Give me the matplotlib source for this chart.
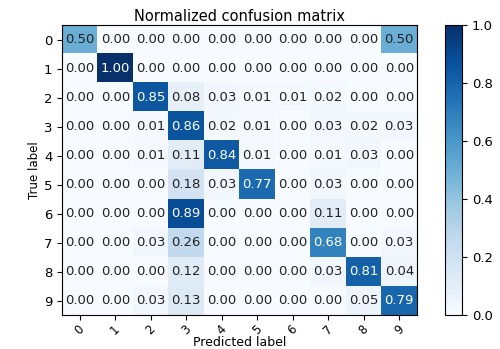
import numpy as np
import matplotlib
matplotlib.use("Agg")
import matplotlib.pyplot as plt

classes = ['0', '1', '2', '3', '4', '5', '6', '7', '8', '9']
row0 = [0.50, 0.00, 0.00, 0.00, 0.00, 0.00, 0.00, 0.00, 0.00, 0.50]
row1 = [0.00, 1.00, 0.00, 0.00, 0.00, 0.00, 0.00, 0.00, 0.00, 0.00]
row2 = [0.00, 0.00, 0.85, 0.08, 0.03, 0.01, 0.01, 0.02, 0.00, 0.00]
row3 = [0.00, 0.00, 0.01, 0.86, 0.02, 0.01, 0.00, 0.03, 0.02, 0.03]
row4 = [0.00, 0.00, 0.01, 0.11, 0.84, 0.01, 0.00, 0.01, 0.03, 0.00]
row5 = [0.00, 0.00, 0.00, 0.18, 0.03, 0.77, 0.00, 0.03, 0.00, 0.00]
row6 = [0.00, 0.00, 0.00, 0.89, 0.00, 0.00, 0.00, 0.11, 0.00, 0.00]
row7 = [0.00, 0.00, 0.03, 0.26, 0.00, 0.00, 0.00, 0.68, 0.00, 0.03]
row8 = [0.00, 0.00, 0.00, 0.12, 0.00, 0.00, 0.00, 0.03, 0.81, 0.04]
row9 = [0.00, 0.00, 0.03, 0.13, 0.00, 0.00, 0.00, 0.00, 0.05, 0.79]

cm = np.array([row0, row1, row2, row3, row4, row5, row6, row7, row8, row9])

fig = plt.figure(figsize=(5.0, 3.49), dpi=100)
ax = fig.add_axes([0.124, 0.097, 0.710, 0.831])
cax = fig.add_axes([0.890, 0.097, 0.034, 0.831])

im = ax.imshow(cm, interpolation='nearest', cmap=plt.cm.Blues, aspect='auto', vmin=0, vmax=1)
cb = fig.colorbar(im, cax=cax)
cb.set_ticks([0.0, 0.2, 0.4, 0.6, 0.8, 1.0])
cb.ax.tick_params(labelsize=9.5)

ax.set_title('Normalized confusion matrix', fontsize=10.5, pad=3)
ax.set_xticks(np.arange(len(classes)))
ax.set_xticklabels(classes, rotation=45, fontsize=8.5)
ax.tick_params(axis='x', pad=2)
ax.set_yticks(np.arange(len(classes)))
ax.set_yticklabels(classes, fontsize=9.5)
ax.set_xlabel('Predicted label', fontsize=9)
ax.xaxis.set_label_coords(0.5, -0.072)
ax.set_ylabel('True label', fontsize=8.5, labelpad=2)

thresh = cm.max() / 2.
for i in range(cm.shape[0]):
    for j in range(cm.shape[1]):
        ax.text(j, i, format(cm[i, j], '.2f'), ha='center', va='center', fontsize=9.5,
                color='white' if cm[i, j] > thresh else '#222222')

fig.savefig('out.png', dpi=100)
